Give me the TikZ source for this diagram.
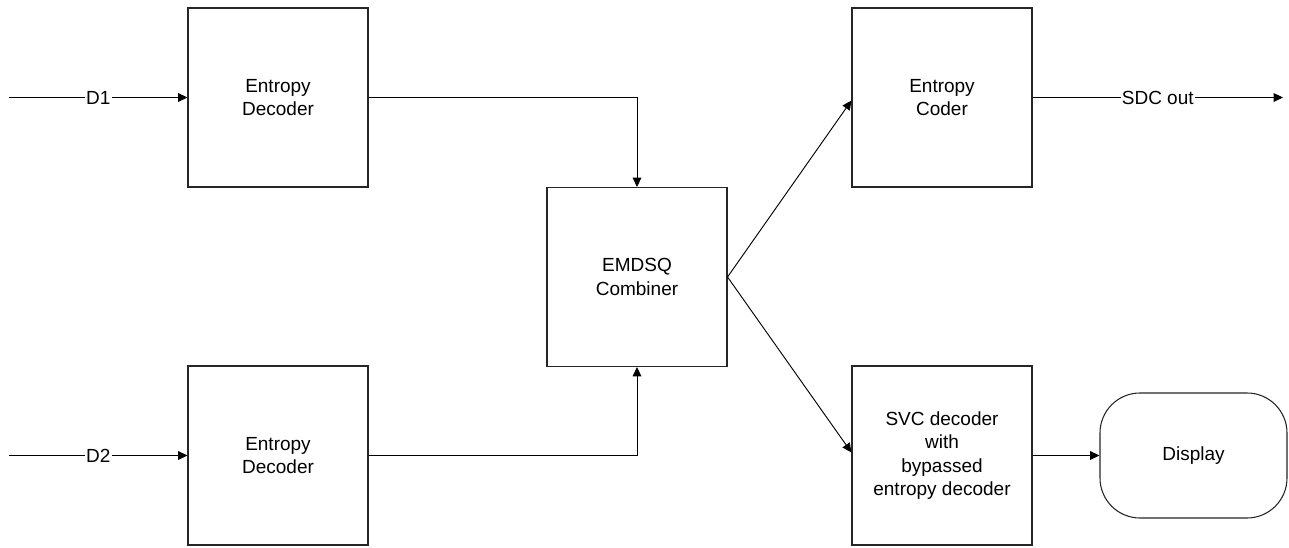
\documentclass[tikz,border=0pt]{standalone}
\usepackage{fontspec}
\setmainfont{Liberation Sans}
\usetikzlibrary{arrows.meta,calc}

\tikzset{
  block/.style={draw=black!85, line width=0.8pt, fill=white, inner sep=0pt,
    minimum width=135pt, minimum height=134.25pt, align=center,
    font=\fontsize{14.25pt}{17.5pt}\selectfont},
  termbox/.style={draw=black!85, line width=0.8pt, fill=white, inner sep=0pt,
    rounded corners=30pt, minimum width=140.25pt, minimum height=93.75pt,
    align=center, font=\fontsize{14.25pt}{17.5pt}\selectfont},
  link/.style={draw=black, line width=0.7pt,
    -{Triangle[length=7pt,width=6.5pt]}},
  lbl/.style={fill=white, inner sep=1pt,
    font=\fontsize{14.25pt}{17.5pt}\selectfont}
}

\begin{document}
\begin{tikzpicture}[x=0.75pt,y=-0.75pt]
  \useasboundingbox (0,0) rectangle (1289,548);

  % processing blocks
  \node[block]   (dec1)  at (278,97.5)    {Entropy\\Decoder};
  \node[block]   (dec2)  at (278,455.5)   {Entropy\\Decoder};
  \node[block]   (comb)  at (637,277)     {EMDSQ\\Combiner};
  \node[block]   (coder) at (942,97.5)    {Entropy\\Coder};
  \node[block]   (svc)   at (942,455.5)   {SVC decoder\\with\\bypassed\\entropy decoder};
  \node[termbox] (disp)  at (1193.5,455.5) {Display};

  % free ends of the stream lines
  \coordinate (in1) at (9,97.5);
  \coordinate (in2) at (9,455.5);
  \coordinate (out) at (1283,97.5);

  % inputs
  \draw[link] (in1) -- node[lbl] {D1} (dec1.west);
  \draw[link] (in2) -- node[lbl] {D2} (dec2.west);

  % decoders into the combiner
  \draw[link] (dec1.east) -| (comb.north);
  \draw[link] (dec2.east) -| (comb.south);

  % combiner outputs
  \draw[link] (comb.east) -- ($(coder.west)+(0,3)$);
  \draw[link] (comb.east) -- ($(svc.west)+(0,-3)$);

  % final outputs
  \draw[link] (coder.east) -- node[lbl, pos=0.5] {SDC out} (out);
  \draw[link] (svc.east) -- (disp.west);
\end{tikzpicture}
\end{document}
